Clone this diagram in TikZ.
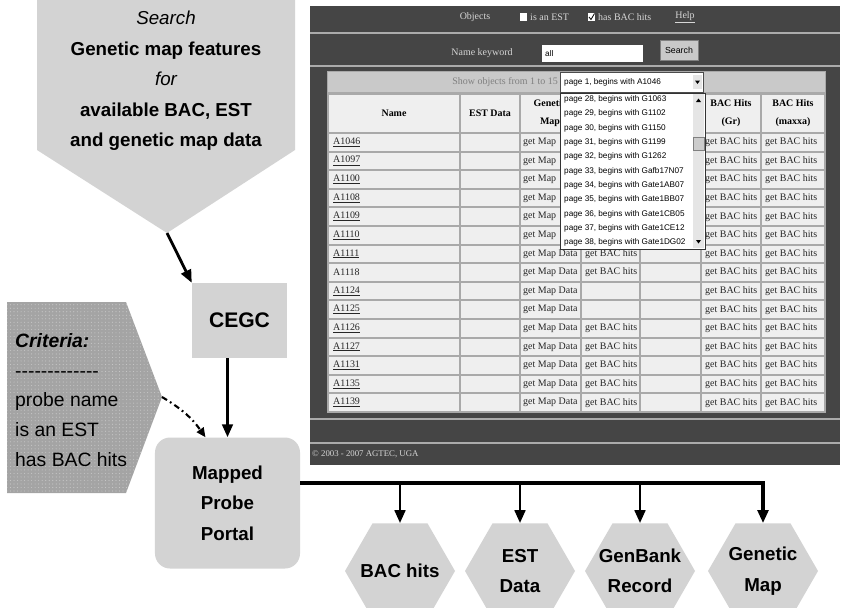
\documentclass[tikz,border=0pt]{standalone}
\usepackage{fontspec}
\setmainfont{Liberation Sans}
\newfontfamily\webfont{Liberation Serif}
\usepackage{tikz}
\usetikzlibrary{arrows.meta, positioning, shapes.geometric, patterns, calc}
\definecolor{shapegray}{HTML}{D3D3D3}
\definecolor{critgray}{HTML}{A4A4A4}
\definecolor{webdark}{HTML}{454545}
\definecolor{webline}{HTML}{ABABAB}
\definecolor{webgrid}{HTML}{A9A9A9}
\definecolor{webcell}{HTML}{EFEFEF}
\definecolor{webbar}{HTML}{C9C9C9}
\definecolor{webtext}{HTML}{D6D6D6}
\newcommand\lnk[1]{\underline{#1}}

\begin{document}
\begin{tikzpicture}[x=0.03cm, y=-0.03cm,
    every node/.style={font=\bfseries\fontsize{16}{26}\selectfont, inner sep=0pt},
    box/.style={fill=shapegray, align=center},
    hexa/.style={regular polygon, regular polygon sides=6, minimum size=3.3cm, fill=shapegray},
    arr/.style={line width=2.4pt, -{Triangle[length=11pt, width=9pt]}},
    bus/.style={line width=3.2pt, line join=miter, -{Triangle[length=11pt, width=9pt]}},
    dasharr/.style={line width=1.8pt, dash pattern=on 5pt off 3pt on 1.5pt off 3pt, -{Triangle[length=8pt, width=7pt]}},
    webui/.style={font=\webfont\fontsize{8.5}{10}\selectfont, text=webtext},
    headtext/.style={font=\webfont\bfseries\fontsize{8.5}{15}\selectfont, align=center},
    celltext/.style={font=\webfont\fontsize{8.5}{10}\selectfont, anchor=west, text=black!85},
    listtext/.style={font=\fontsize{7}{8}\selectfont, anchor=west},
]
\useasboundingbox (0,0) rectangle (845,607);

% search request
\fill[shapegray] (37,-5) -- (295,-5) -- (295,150) -- (167,233) -- (37,150) -- cycle;
\coordinate (searchtip) at (167,233);
\node[align=center] (searchtxt) at (166,81) {{\mdseries\itshape Search}\\Genetic map features\\{\mdseries\itshape for}\\available BAC, EST\\and genetic map data};

% criteria
\fill[critgray, postaction={pattern=dots, pattern color=white!55!gray}] (7,302) -- (126,302) -- (162,397) -- (126,493) -- (7,493) -- cycle;
\coordinate (crittip) at (162,397);
\node[anchor=west, align=left, font=\fontsize{16.5}{25.5}\selectfont] (crittxt) at (15,400) {\textbf{\textit{Criteria:}}\\\mbox{-}\mbox{-}\mbox{-}\mbox{-}\mbox{-}\mbox{-}\mbox{-}\mbox{-}\mbox{-}\mbox{-}\mbox{-}\mbox{-}\mbox{-}\\probe name\\is an EST\\has BAC hits};

\node[box, font=\bfseries\fontsize{18}{22}\selectfont, minimum width=2.85cm, minimum height=2.25cm] (cegc) at (239.5,320.5) {CEGC};
\node[box, rounded corners=0.45cm, minimum width=4.35cm, minimum height=3.93cm] (portal) at (227.5,503) {Mapped\\Probe\\Portal};

\node[hexa] (bachits) at (400,571) {};
\node[hexa] (estdata) at (520,571) {};
\node[hexa] (genbank) at (640,571) {};
\node[hexa] (genmap) at (763,571) {};
\node[align=center] (bachitstxt) at (bachits) {BAC hits};
\node[align=center] (estdatatxt) at (estdata) {EST\\Data};
\node[align=center] (genbanktxt) at (genbank) {GenBank\\Record};
\node[align=center] (genmaptxt) at (genmap) {Genetic\\Map};

\draw[arr] (searchtip) -- (cegc.north west);
\draw[arr] (cegc.south -| portal.north) -- (portal.north);
\coordinate (portalin) at ([xshift=-0.66cm]portal.north);
\draw[dasharr] (crittip) to[bend left=12] (portalin);
\coordinate (bus) at ([yshift=0.59cm]portal.east);
\draw[bus] (bus) -| (genmap.north);
\foreach \h in {bachits, estdata, genbank}
    \draw[arr] (bus -| \h.north) -- (\h.north);

% web page capture
\fill[webdark] (310,6) rectangle (840,465);
\foreach \y in {33,66,419,443}
    \draw[webline, line width=1.7pt] (310,\y) -- (840,\y);
\node[webui] (objlbl) at (475,17) {Objects};
\node[fill=white, minimum size=0.22cm] (chkest) at (523.5,17) {};
\node[webui, anchor=west] (estlbl) at (530,17) {is an EST};
\node[fill=white, minimum size=0.22cm] (chkbac) at (591.5,17) {};
\draw[black, line width=0.7pt] (589,17) -- (591,19.5) -- (594.5,13.5);
\node[webui, anchor=west] (baclbl) at (598,17) {has BAC hits};
\node[webui] (helplbl) at (685,17) {\underline{Help}};
\node[webui] (kwlbl) at (482,53) {Name keyword};
\node[fill=white, anchor=west, minimum width=3.03cm, minimum height=0.51cm] (kwbox) at (542,53.5) {};
\node[listtext] (kwval) at (545,53.5) {all};
\node[draw=gray, fill=webbar, minimum width=1.14cm, minimum height=0.6cm, font=\fontsize{7.5}{9}\selectfont] (searchbtn) at (679,50) {Search};

% result table
\fill[webgrid] (327,71) rectangle (826,413);
\fill[webbar] (328,72) rectangle (825,92);
\node[anchor=east, font=\webfont\fontsize{8.5}{10}\selectfont, text=gray] (showlbl) at (558,82) {Show objects from 1 to 15};
\foreach \a/\b in {328/460,460/520,520/581,581/640,640/701,701/761,761/825} {
    \fill[webcell] (\a+1,95) rectangle (\b-1,132);
    \foreach \i in {0,...,14}
        \fill[webcell] (\a+1,{134+18.6*\i}) rectangle (\b-1,{150.6+18.6*\i});
}
\node[headtext] (hname) at (394,113) {Name};
\node[headtext] (hest) at (490,113) {EST Data};
\node[headtext] (hmap) at (550,113) {Genetic\\Map};
\node[headtext] (hgr) at (731,113) {BAC Hits\\(Gr)};
\node[headtext] (hmx) at (793,113) {BAC Hits\\(maxxa)};
\foreach \nm [count=\i from 0] in {\lnk{A1046},\lnk{A1097},\lnk{A1100},\lnk{A1108},\lnk{A1109},\lnk{A1110},\lnk{A1111},A1118,\lnk{A1124},\lnk{A1125},\lnk{A1126},\lnk{A1127},\lnk{A1131},\lnk{A1135},\lnk{A1139}} {
    \node[celltext] (name\i) at (333,{142.3+18.6*\i}) {\nm};
    \node[celltext] (gr\i) at (705,{142.3+18.6*\i}) {get BAC hits};
    \node[celltext] (mx\i) at (765,{142.3+18.6*\i}) {get BAC hits};
}
\foreach \i in {0,...,5}
    \node[celltext] (map\i) at (523,{142.3+18.6*\i}) {get Map};
\foreach \i in {6,...,14}
    \node[celltext] (map\i) at (523,{142.3+18.6*\i}) {get Map Data};
\foreach \i in {6,7,10,11,12,13,14}
    \node[celltext] (hits\i) at (585,{142.3+18.6*\i}) {get BAC hits};

% page drop-down
\node[draw=black!70, fill=white, anchor=north west, minimum width=4.29cm, minimum height=0.6cm] (pagesel) at (560,72) {};
\node[listtext] (pagecur) at (564,82) {page 1, begins with A1046};
\fill[gray!20] (693,75) rectangle (702,89);
\fill (695,80.5) -- (700,80.5) -- (697.5,84) -- cycle;
\node[draw=black!80, fill=white, anchor=north west, minimum width=4.35cm, minimum height=4.68cm] (pagelist) at (560,93) {};
\fill[gray!20] (693,94) rectangle (704,248);
\draw[gray, fill=gray!40] (693,137) rectangle (704,150);
\fill (696,102) -- (701,102) -- (698.5,98.5) -- cycle;
\fill (696,240) -- (701,240) -- (698.5,243.5) -- cycle;
\foreach \p/\g [count=\k from 0] in {28/G1063,29/G1102,30/G1150,31/G1199,32/G1262,33/Gafb17N07,34/Gate1AB07,35/Gate1BB07,36/Gate1CB05,37/Gate1CE12,38/Gate1DG02}
    \node[listtext] (pg\p) at (564,{99.5+14.3*\k}) {page \p, begins with \g};

\node[anchor=west, font=\webfont\fontsize{7.5}{9}\selectfont, text=webtext] (copyr) at (312,454) {\copyright{} 2003 - 2007 AGTEC, UGA};
\end{tikzpicture}
\end{document}
